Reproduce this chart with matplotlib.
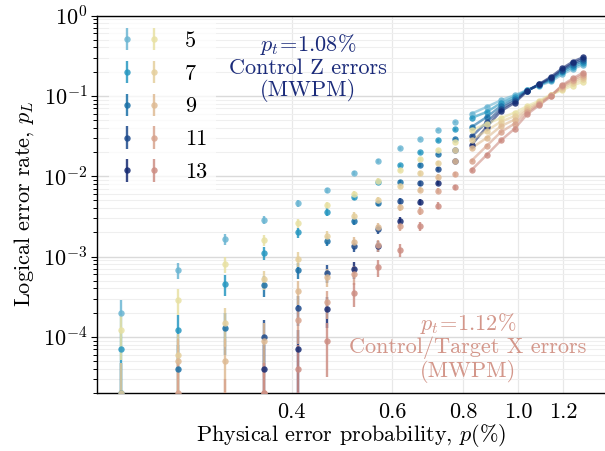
import numpy as np
import matplotlib
matplotlib.use('Agg')
import matplotlib.pyplot as plt
from matplotlib.legend_handler import HandlerTuple
from matplotlib.ticker import FixedLocator, FixedFormatter, NullLocator, LogLocator

plt.rcParams['font.family'] = 'serif'
plt.rcParams['font.serif'] = ['cmr10', 'DejaVu Serif']
plt.rcParams['mathtext.fontset'] = 'cm'
plt.rcParams['axes.formatter.use_mathtext'] = True
plt.rcParams['font.size'] = 16

nan = np.nan

# physical error probability (%)
p_phys = [0.200, 0.252, 0.305, 0.357, 0.410, 0.462, 0.514, 0.567, 0.619, 0.671, 0.724,
          0.776, 0.829, 0.881, 0.933, 0.986, 1.038, 1.090, 1.143, 1.195, 1.248, 1.300]
distances = [5, 7, 9, 11, 13]
n_scatter = 12          # first points: sampled, shown without connecting lines
n_shots = 1e5

# Control Z errors
z_d5 = [2.0e-4, 6.8e-4, 1.64e-3, 2.84e-3, 4.6e-3, 6.7e-3, 1.09e-2, 1.54e-2, 2.24e-2, 2.92e-2, 3.79e-2,
        4.77e-2, 0.0601, 0.0729, 0.0881, 0.1018, 0.1181, 0.1345, 0.151, 0.1846, 0.2163, 0.2427]
z_d7 = [7e-5, 1.2e-4, 4.6e-4, 1.12e-3, 2.0e-3, 3.6e-3, 5.5e-3, 8.5e-3, 1.36e-2, 2.0e-2, 2.79e-2,
        3.82e-2, 0.0531, 0.0631, 0.0813, 0.0966, 0.118, 0.1365, 0.1576, 0.1955, 0.229, 0.257]
z_d9 = [2e-5, 4e-5, 1.3e-4, 4.4e-4, 6.8e-4, 1.58e-3, 2.8e-3, 4.7e-3, 8.4e-3, 1.38e-2, 1.9e-2,
        2.87e-2, 0.041, 0.0546, 0.0746, 0.0912, 0.1164, 0.1384, 0.1622, 0.204, 0.2427, 0.2723]
z_d11 = [nan, nan, nan, 1e-4, 2.3e-4, 6.3e-4, 1.36e-3, 2.2e-3, 4.95e-3, 8.2e-3, 1.23e-2,
         2.1e-2, 0.0313, 0.047, 0.0694, 0.0861, 0.1164, 0.1396, 0.167, 0.21, 0.2533, 0.2844]
z_d13 = [nan, nan, nan, 4e-5, 7e-5, 2.2e-4, 6.9e-4, 1.35e-3, 2.74e-3, 4.8e-3, 8.3e-3,
         1.56e-2, 0.0246, 0.0413, 0.0646, 0.0818, 0.1148, 0.1404, 0.1728, 0.2193, 0.266, 0.3013]

# Control/Target X errors
x_d5 = [1.2e-4, 2.9e-4, 8e-4, 1.6e-3, 2.6e-3, 4.4e-3, 6e-3, 8.8e-3, 1.21e-2, 1.62e-2, 2.09e-2,
        2.66e-2, 0.0372, 0.0451, 0.0528, 0.0618, 0.0746, 0.0873, 0.1038, 0.1181, 0.1345, 0.1496]
x_d7 = [2e-5, 6e-5, 1.5e-4, 5.2e-4, 9.4e-4, 1.8e-3, 3.2e-3, 5.0e-3, 7.6e-3, 1.08e-2, 1.47e-2,
        2.1e-2, 0.0284, 0.0368, 0.0477, 0.0559, 0.0704, 0.0837, 0.1023, 0.1234, 0.1445, 0.16]
x_d9 = [nan, 5e-5, 5e-5, 9e-5, 3.7e-4, 5.6e-4, 1.5e-3, 2.3e-3, 4.1e-3, 6.8e-3, 9.9e-3,
        1.56e-2, 0.0224, 0.0301, 0.0419, 0.0506, 0.0665, 0.0813, 0.1023, 0.1288, 0.151, 0.1718]
x_d11 = [nan, 2e-5, 1e-5, 2e-5, 1.6e-4, 2.7e-4, 6e-4, 1.38e-3, 2.37e-3, 3.7e-3, 6.6e-3,
         1.05e-2, 0.01567, 0.0239, 0.0355, 0.0451, 0.0627, 0.079, 0.1009, 0.1326, 0.1576, 0.182]
x_d13 = [nan, nan, nan, 2e-5, 4e-5, 9e-5, 3.5e-4, 7.3e-4, 1.2e-3, 2.4e-3, 4.3e-3,
         7.3e-3, 0.012, 0.01845, 0.0279, 0.039, 0.0592, 0.0767, 0.0994, 0.1357, 0.1645, 0.1938]

z_series = [z_d5, z_d7, z_d9, z_d11, z_d13]
x_series = [x_d5, x_d7, x_d9, x_d11, x_d13]
z_colors = ['#6cb6d3', '#2898c1', '#1a70a7', '#1d4a8c', '#152a72']
x_colors = ['#e8e1a4', '#e5cf9d', '#dfbb94', '#d8a48e', '#cd8e84']

fig = plt.figure(figsize=(6.05, 4.51), dpi=100)
ax = fig.add_axes([0.1598, 0.1286, 0.8402, 0.8370])
ax.set_xscale('log')
ax.set_yscale('log')

p = np.array(p_phys)
handles = {}
for name, series, colors in (('z', z_series, z_colors), ('x', x_series, x_colors)):
    for d, vals, c in zip(distances, series, colors):
        v = np.array(vals, dtype=float)
        err = 1.96 * np.sqrt(v * (1 - v) / n_shots)
        lo = np.where(err >= v, v - 1e-9, err)
        hi = err
        s = slice(0, n_scatter)
        h = ax.errorbar(p[s], v[s], yerr=[lo[s], hi[s]], fmt='o', ms=4.6, mew=0,
                        color=c, alpha=0.85, elinewidth=1.7, capsize=0, zorder=3)
        s2 = slice(n_scatter, None)
        ax.plot(p[s2], v[s2], '-', lw=1.8, color=c, alpha=0.6, zorder=3)
        ax.errorbar(p[s2], v[s2], yerr=[lo[s2], hi[s2]], fmt='o', ms=4.6, mew=0,
                    color=c, alpha=0.85, elinewidth=1.5, capsize=0, zorder=3)
        handles[(name, d)] = h

ax.set_xlim(0.1815, 1.422)
ax.set_ylim(2e-5, 1)

ax.xaxis.set_major_locator(FixedLocator([0.4, 0.6, 0.8, 1.0, 1.2]))
ax.xaxis.set_major_formatter(FixedFormatter(['0.4', '0.6', '0.8', '1.0', '1.2']))
ax.xaxis.set_minor_locator(NullLocator())
ax.tick_params(axis='x', which='both', length=0, pad=6.5)
ax.yaxis.set_major_locator(LogLocator(base=10, numticks=10))
ax.yaxis.set_minor_locator(LogLocator(base=10, subs=np.arange(2, 10), numticks=20))
ax.tick_params(axis='y', which='major', direction='out', length=4.5, width=0.8, pad=2)
ax.tick_params(axis='y', which='minor', direction='out', length=2.6, width=0.7)

ax.grid(True, which='major', axis='y', color='#dadada', lw=1.0, zorder=0)
ax.grid(True, which='minor', axis='y', color='#efefef', lw=0.8, zorder=0)
ax.grid(True, which='major', axis='x', color='#e8e8e8', lw=0.9, zorder=0)
ax.set_axisbelow(True)
ax.spines['right'].set_visible(False)
for sp in ('top', 'bottom', 'left'):
    ax.spines[sp].set_linewidth(1.0)

ax.set_xlabel('Physical error probability, $p(\\%)$', labelpad=0.5)
ax.set_ylabel('Logical error rate, $p_L$', labelpad=5)

ax.text(0.4157, 0.8636, '$p_t\\!=\\!1.08\\%$\nControl Z errors\n(MWPM)', transform=ax.transAxes,
        ha='center', va='center', color='#1b2b7a', linespacing=1.05, zorder=5)
ax.text(0.7305, 0.1219, '$p_t\\!=\\!1.12\\%$\nControl/Target X errors\n(MWPM)', transform=ax.transAxes,
        ha='center', va='center', color='#d3968a', linespacing=1.05, zorder=5)

leg_handles = [(handles[('z', d)], handles[('x', d)]) for d in distances]
leg = ax.legend(leg_handles, [str(d) for d in distances], loc='upper left',
                bbox_to_anchor=(0.012, 1.0), handler_map={tuple: HandlerTuple(ndivide=None, pad=0.4)},
                handlelength=2.0, handletextpad=1.0, labelspacing=0.6, borderaxespad=0.3,
                frameon=True, framealpha=0.75, edgecolor='none', facecolor='white', fancybox=False)

fig.savefig('out.png', dpi=100)
